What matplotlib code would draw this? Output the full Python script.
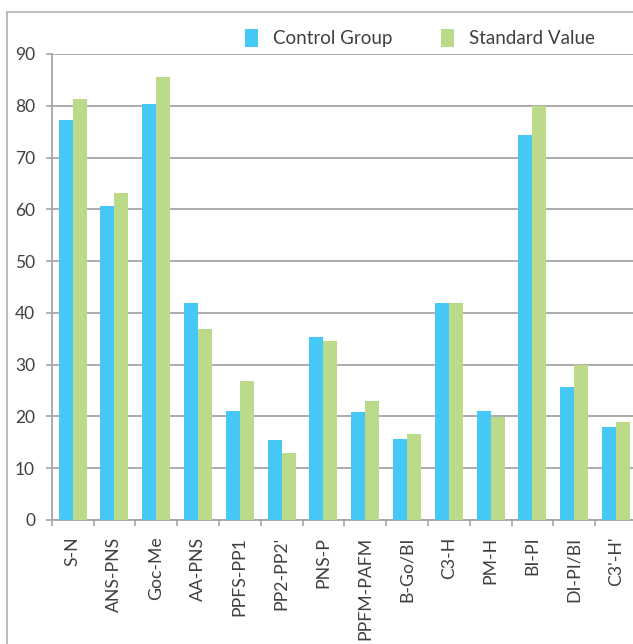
import matplotlib.pyplot as plt
import numpy as np
from matplotlib.patches import Rectangle

categories = ["S-N", "ANS-PNS", "Goc-Me", "AA-PNS", "PPFS-PP1", "PP2-PP2'", "PNS-P",
              "PPFM-PAFM", "B-Go/BI", "C3-H", "PM-H", "BI-PI", "DI-PI/BI", "C3'-H'"]
control_group = [77.2, 60.7, 80.4, 41.9, 21.0, 15.4, 35.4, 20.8, 15.6, 41.9, 21.0, 74.4, 25.6, 18.0]
standard_value = [81.4, 63.1, 85.5, 36.8, 26.9, 12.9, 34.6, 23.0, 16.6, 41.9, 19.8, 80.0, 29.9, 19.0]
y_ticks = [0, 10, 20, 30, 40, 50, 60, 70, 80, 90]

BLUE = "#45c8f5"
GREEN = "#bbdb8a"
GRID = "#a6a6a6"
TEXT = "#404040"

plt.rcParams["font.family"] = ["Lato", "DejaVu Sans"]

W, H = 633, 644
fig = plt.figure(figsize=(W / 100, H / 100), dpi=100)

# outer frame (runs off the right and bottom edges like the source)
fig.patches.append(Rectangle((7 / W, -0.1), 1.2, 1 - 12 / H + 0.1, transform=fig.transFigure,
                             fill=False, edgecolor="#b0b0b0", linewidth=1.2))

left, right = 51.7 / W, 637 / W
bottom, top = 1 - 520 / H, 1 - 54 / H
ax = fig.add_axes([left, bottom, right - left, top - bottom])

x = np.arange(len(categories))
width = 0.335
ax.bar(x - width / 2, control_group, width, color=BLUE, label="Control Group", zorder=3)
ax.bar(x + width / 2, standard_value, width, color=GREEN, label="Standard Value", zorder=3)

ax.set_xlim(-0.5, len(categories) - 0.5)
ax.set_ylim(0, 90)
ax.set_yticks(y_ticks)
ax.yaxis.grid(True, color=GRID, linewidth=1.3, zorder=0)
ax.set_axisbelow(True)

ax.set_xticks(x)
ax.set_xticklabels(categories, rotation=90, color=TEXT, fontsize=12.7)
ax.set_xticks(np.arange(len(categories) + 1) - 0.5, minor=True)
ax.tick_params(axis="x", which="major", length=0, pad=12)
ax.tick_params(axis="x", which="minor", length=4, color=GRID, width=1.2)
ax.tick_params(axis="y", length=4, color=GRID, width=1.2, labelsize=12.5, labelcolor=TEXT, pad=8)

for side in ["top", "right"]:
    ax.spines[side].set_visible(False)
for side in ["left", "bottom"]:
    ax.spines[side].set_color(GRID)
    ax.spines[side].set_linewidth(1.3)

ax.legend(loc="lower left", bbox_to_anchor=(245 / W, 1 - 47 / H), bbox_transform=fig.transFigure,
          ncol=2, frameon=False, fontsize=13.5, labelcolor=TEXT, handlelength=0.7, handleheight=1.1,
          columnspacing=2.6, handletextpad=0.8, borderaxespad=0, borderpad=0)

fig.savefig("out.png", dpi=100)
